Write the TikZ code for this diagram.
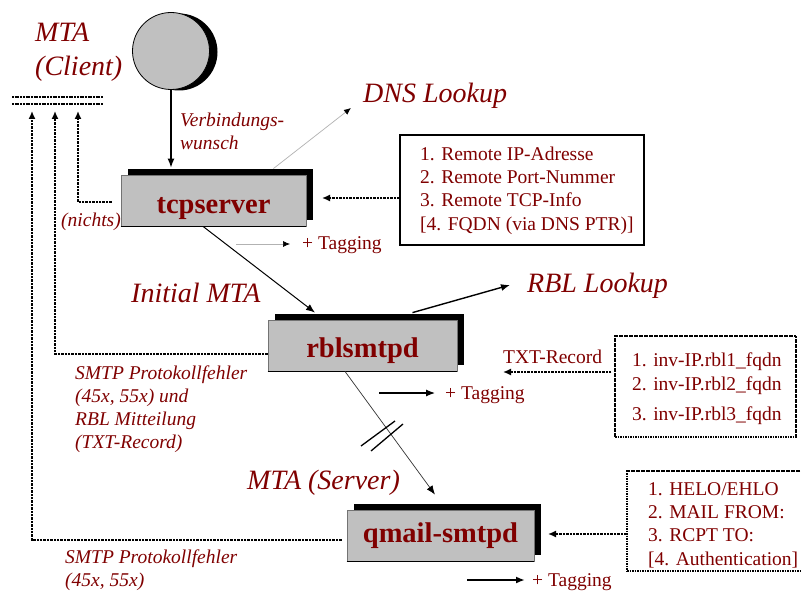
\documentclass[tikz,border=0pt]{standalone}
\usepackage{fontspec}
\setmainfont{Liberation Serif}
\usetikzlibrary{arrows.meta,shadows}
\definecolor{labelred}{RGB}{128,0,0}
\definecolor{procgray}{RGB}{192,192,192}
\tikzset{
  proc/.style={rectangle, fill=procgray, draw=black!55, line width=0.8pt,
    minimum height=51pt, inner sep=0pt, text=labelred,
    font=\fontsize{28.5}{34}\selectfont\bfseries,
    drop shadow={shadow xshift=7pt, shadow yshift=6pt, fill=black, opacity=1}},
  bigit/.style={inner sep=0pt, text=labelred, align=left,
    font=\fontsize{28}{34}\selectfont\itshape},
  smallit/.style={inner sep=0pt, text=labelred, align=left,
    font=\fontsize{19.5}{23}\selectfont\itshape},
  plain/.style={inner sep=0pt, text=labelred, align=left,
    font=\fontsize{19.5}{23.3}\selectfont},
  solidbox/.style={rectangle, draw=black, line width=1.4pt, inner sep=0pt},
  dotbox/.style={rectangle, draw=black, line width=1.4pt,
    dash pattern=on 1.6pt off 0.9pt, inner sep=0pt},
  ret/.style={draw=black, line width=1.5pt, dash pattern=on 2.4pt off 1pt,
    -{Latex[length=8pt,width=7pt]}},
  flow/.style={draw=black, line width=1.3pt, -{Latex[length=9pt,width=7pt]}},
  faint/.style={draw=black!30, line width=0.7pt, -{Latex[length=7pt,width=6pt,fill=black,color=black]}},
  queuebar/.style={line width=1.4pt, dash pattern=on 2pt off 0.7pt},
}
\begin{document}
\begin{tikzpicture}[x=1pt,y=-1pt]
\fill[white] (0,0) rectangle (801,591);
\useasboundingbox (0,0) rectangle (801,591);

% client symbol: connection source and the mail queue bar
\node[circle, fill=procgray, draw=black, line width=0.8pt, minimum size=77pt,
  inner sep=0pt,
  drop shadow={shadow xshift=8pt, shadow yshift=-1pt, fill=black, opacity=1}]
  (client) at (171,51) {};
\draw[queuebar] (12,97) -- (103,97);
\draw[queuebar] (12,104) -- (103,104);

% processing stages
\node[proc, minimum width=185pt, text depth=13pt, text height=38pt] (tcp) at (213.5,200.5) {tcpserver};
\node[proc, minimum width=189pt, text depth=14pt, text height=37pt] (rbl) at (362.5,345.5) {rblsmtpd};
\node[proc, minimum width=187pt] (qmail) at (440.5,535.5) {qmail-smtpd};
\draw[line width=1.2pt] (tcp.south west) -- (tcp.south east);
\draw[line width=1.2pt] (rbl.south west) -- (rbl.south east);
\draw[line width=1.2pt] (qmail.south west) -- (qmail.south east);

% labels
\node[bigit, anchor=north west] (mtaclient) at (35,23) {MTA\\(Client)};
\node[smallit, anchor=north west] (wish) at (180,113) {Verbindungs-\\wunsch};
\node[smallit, anchor=base west] (nothing) at (61,226) {(nichts)};
\node[bigit, anchor=base west] (dns) at (363,103) {DNS Lookup};
\node[bigit, anchor=base west] (initial) at (131,302) {Initial MTA};
\node[bigit, anchor=base west] (rbll) at (527,292) {RBL Lookup};
\node[bigit, anchor=base west] (server) at (247,489) {MTA (Server)};
\node[smallit, anchor=north west] (err1) at (75,366)
  {SMTP Protokollfehler\\(45x, 55x) und\\RBL Mitteilung\\(TXT-Record)};
\node[smallit, anchor=north west] (err2) at (65,550)
  {SMTP Protokollfehler\\(45x, 55x)};
\node[plain, anchor=base west] (txt) at (503,363) {TXT-Record};
\node[plain, anchor=base west] (tag1) at (302,249) {+ Tagging};
\node[plain, anchor=base west] (tag2) at (445,399) {+ Tagging};
\node[plain, anchor=base west] (tag3) at (532,586) {+ Tagging};

% information sources
\node[solidbox, minimum width=244pt, minimum height=110pt] (box1) at (522,190) {};
\node[plain, anchor=north west] (box1txt) at (420,146.5)
  {1. Remote IP-Adresse\\2. Remote Port-Nummer\\3. Remote TCP-Info\\{[4. FQDN (via DNS PTR)]}};
\node[dotbox, minimum width=181pt, minimum height=101pt] (box2) at (705.5,386.5) {};
\node[plain, anchor=north west] (box2txt) at (632,353)
  {1. inv-IP.rbl1\_fqdn\\2. inv-IP.rbl2\_fqdn\\[6.7pt]3. inv-IP.rbl3\_fqdn};
\node[dotbox, minimum width=179pt, minimum height=100pt] (box3) at (716.5,521) {};
\node[plain, anchor=north west] (box3txt) at (648,482)
  {1. HELO/EHLO\\2. MAIL FROM:\\3. RCPT TO:\\{[4. Authentication]}};

% answers back to the client
\coordinate (out1) at (78,111);
\coordinate (out2) at (55,111);
\coordinate (out3) at (32,111);
\draw[ret] ([shift={(-9,1.5)}]tcp.west) -| (out1);
\draw[ret] ([shift={(0,8.5)}]rbl.west) -| (out2);
\draw[ret] ([shift={(-5,4.5)}]qmail.west) -| (out3);

% data fed into the stages
\coordinate (in1) at (322,198);
\coordinate (in2) at (503,372);
\coordinate (in3) at (548,534);
\draw[ret] (box1.west |- in1) -- (in1);
\draw[ret] ([xshift=-3pt]box2.west |- in2) -- (in2);
\draw[ret] (box3.west |- in3) -- (in3);

% main flow
\coordinate (dnstip) at (351,108);
\coordinate (rbltip) at (510,285);
\draw[flow, shorten >=7pt] (client.south) -- (client.south |- tcp.north);
\draw[faint] ([shift={(-33,-6)}]tcp.north east) -- (dnstip);
\draw[flow, line width=1pt] ([xshift=-10.5pt]tcp.south) -- ([shift={(-47.5,-7)}]rbl.north);
\draw[flow, line width=1.4pt] ([shift={(50,-7)}]rbl.north) -- (rbltip);
\draw[draw=black!80, line width=0.7pt, -{Latex[length=9pt,width=7pt,fill=black,color=black]}]
  ([xshift=-17.5pt]rbl.south) -- ([shift={(-5.5,-15)}]qmail.north);
\draw[line width=1.3pt] (361,446) -- (395,421);
\draw[line width=1.3pt] (371,451) -- (403,424);

% tagging
\coordinate (tg1) at (236,244);
\coordinate (tg2) at (379,393);
\coordinate (tg3) at (467,580);
\draw[faint, shorten >=12pt] (tg1) -- (tg1 -| tag1.west);
\draw[flow, line width=1.2pt, shorten >=10pt] (tg2) -- (tg2 -| tag2.west);
\draw[flow, line width=2pt, shorten >=7pt] (tg3) -- (tg3 -| tag3.west);
\end{tikzpicture}
\end{document}
